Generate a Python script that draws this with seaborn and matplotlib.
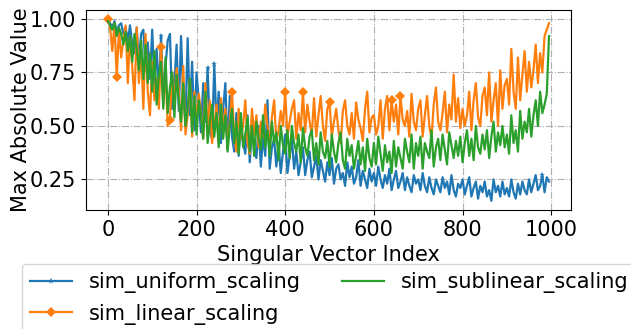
import numpy as np
import pandas as pd
import matplotlib
matplotlib.use('Agg')
import matplotlib.pyplot as plt
import seaborn as sns

# singular vector index, sampled every 5th vector
idx = np.arange(0, 1000, 5)

uniform = [
    1.00, 0.98, 0.96, 0.99, 0.94, 0.97, 0.98, 0.93, 0.96, 0.90,
    0.97, 0.88, 0.84, 0.96, 0.80, 0.93, 0.95, 0.76, 0.89, 0.72,
    0.95, 0.70, 0.86, 0.66, 0.92, 0.62, 0.78, 0.90, 0.93, 0.58,
    0.70, 0.88, 0.57, 0.92, 0.64, 0.52, 0.91, 0.55, 0.80, 0.48,
    0.75, 0.62, 0.47, 0.70, 0.52, 0.77, 0.48, 0.44, 0.79, 0.50,
    0.66, 0.42, 0.58, 0.70, 0.39, 0.64, 0.45, 0.38, 0.56, 0.36,
    0.52, 0.42, 0.37, 0.55, 0.33, 0.48, 0.40, 0.35, 0.50, 0.31,
    0.45, 0.36, 0.62, 0.30, 0.40, 0.44, 0.31, 0.42, 0.28, 0.38,
    0.46, 0.28, 0.36, 0.44, 0.30, 0.38, 0.27, 0.33, 0.40, 0.27,
    0.34, 0.38, 0.26, 0.31, 0.36, 0.25, 0.34, 0.29, 0.24, 0.33,
    0.27, 0.35, 0.23, 0.30, 0.32, 0.25, 0.28, 0.22, 0.33, 0.26,
    0.31, 0.23, 0.26, 0.34, 0.22, 0.29, 0.25, 0.21, 0.30, 0.24,
    0.28, 0.22, 0.31, 0.25, 0.21, 0.27, 0.23, 0.30, 0.20, 0.25,
    0.29, 0.21, 0.24, 0.28, 0.20, 0.26, 0.22, 0.19, 0.27, 0.23,
    0.25, 0.20, 0.28, 0.22, 0.19, 0.26, 0.21, 0.18, 0.25, 0.22,
    0.19, 0.26, 0.21, 0.24, 0.18, 0.27, 0.20, 0.17, 0.23, 0.21,
    0.25, 0.18, 0.22, 0.26, 0.17, 0.21, 0.24, 0.16, 0.22, 0.19,
    0.24, 0.17, 0.20, 0.15, 0.25, 0.19, 0.22, 0.17, 0.24, 0.18,
    0.21, 0.17, 0.25, 0.19, 0.16, 0.23, 0.18, 0.24, 0.20, 0.18,
    0.25, 0.19, 0.23, 0.27, 0.20, 0.22, 0.27, 0.19, 0.26, 0.24,
]

linear = [
    1.00, 0.96, 0.85, 0.98, 0.73, 0.95, 0.82, 0.90, 0.97, 0.70,
    0.92, 0.78, 0.62, 0.96, 0.70, 0.86, 0.58, 0.93, 0.66, 0.55,
    0.80, 0.62, 0.72, 0.58, 0.87, 0.60, 0.76, 0.50, 0.53, 0.75,
    0.60, 0.77, 0.66, 0.48, 0.78, 0.46, 0.55, 0.72, 0.45, 0.66,
    0.52, 0.65, 0.56, 0.44, 0.70, 0.48, 0.62, 0.42, 0.50, 0.60,
    0.42, 0.63, 0.48, 0.58, 0.40, 0.52, 0.66, 0.45, 0.38, 0.58,
    0.44, 0.50, 0.62, 0.42, 0.37, 0.58, 0.46, 0.55, 0.40, 0.52,
    0.45, 0.60, 0.50, 0.42, 0.54, 0.62, 0.43, 0.48, 0.57, 0.50,
    0.66, 0.45, 0.52, 0.58, 0.62, 0.44, 0.56, 0.48, 0.66, 0.47,
    0.60, 0.52, 0.46, 0.63, 0.45, 0.55, 0.64, 0.50, 0.43, 0.58,
    0.61, 0.45, 0.52, 0.58, 0.48, 0.42, 0.57, 0.62, 0.50, 0.46,
    0.56, 0.44, 0.61, 0.53, 0.49, 0.43, 0.58, 0.66, 0.47, 0.54,
    0.55, 0.46, 0.50, 0.62, 0.44, 0.58, 0.64, 0.48, 0.62, 0.52,
    0.60, 0.46, 0.64, 0.53, 0.50, 0.57, 0.45, 0.65, 0.52, 0.48,
    0.58, 0.62, 0.45, 0.55, 0.64, 0.50, 0.44, 0.60, 0.68, 0.52,
    0.48, 0.56, 0.66, 0.47, 0.60, 0.53, 0.74, 0.52, 0.63, 0.49,
    0.58, 0.50, 0.55, 0.66, 0.48, 0.62, 0.70, 0.54, 0.50, 0.64,
    0.68, 0.55, 0.75, 0.52, 0.62, 0.70, 0.50, 0.76, 0.58, 0.69,
    0.72, 0.60, 0.86, 0.66, 0.58, 0.82, 0.62, 0.74, 0.85, 0.66,
    0.80, 0.68, 0.76, 0.88, 0.70, 0.84, 0.75, 0.92, 0.95, 0.98,
]

sublinear = [
    0.99, 0.97, 0.95, 0.98, 0.92, 0.96, 0.93, 0.88, 0.94, 0.85,
    0.92, 0.80, 0.93, 0.86, 0.76, 0.90, 0.72, 0.88, 0.70, 0.84,
    0.66, 0.85, 0.60, 0.74, 0.80, 0.58, 0.82, 0.56, 0.68, 0.75,
    0.54, 0.74, 0.62, 0.52, 0.70, 0.50, 0.58, 0.72, 0.47, 0.64,
    0.46, 0.62, 0.55, 0.44, 0.66, 0.42, 0.52, 0.60, 0.45, 0.56,
    0.40, 0.60, 0.44, 0.55, 0.38, 0.50, 0.58, 0.42, 0.52, 0.37,
    0.56, 0.40, 0.46, 0.54, 0.38, 0.50, 0.36, 0.52, 0.44, 0.39,
    0.55, 0.40, 0.48, 0.36, 0.52, 0.42, 0.47, 0.34, 0.50, 0.41,
    0.37, 0.48, 0.35, 0.50, 0.42, 0.38, 0.46, 0.33, 0.49, 0.40,
    0.36, 0.45, 0.48, 0.34, 0.42, 0.32, 0.47, 0.38, 0.35, 0.43,
    0.31, 0.46, 0.38, 0.33, 0.42, 0.47, 0.34, 0.30, 0.44, 0.36,
    0.41, 0.30, 0.36, 0.43, 0.32, 0.40, 0.29, 0.44, 0.35, 0.31,
    0.42, 0.32, 0.45, 0.37, 0.29, 0.41, 0.33, 0.38, 0.28, 0.43,
    0.31, 0.40, 0.35, 0.30, 0.44, 0.38, 0.33, 0.46, 0.30, 0.42,
    0.36, 0.45, 0.30, 0.42, 0.38, 0.35, 0.48, 0.31, 0.40, 0.44,
    0.34, 0.46, 0.39, 0.32, 0.47, 0.41, 0.35, 0.43, 0.36, 0.45,
    0.33, 0.42, 0.48, 0.36, 0.44, 0.34, 0.50, 0.40, 0.37, 0.46,
    0.39, 0.48, 0.35, 0.45, 0.52, 0.38, 0.47, 0.41, 0.50, 0.40,
    0.46, 0.37, 0.55, 0.42, 0.48, 0.38, 0.57, 0.44, 0.52, 0.47,
    0.58, 0.45, 0.55, 0.62, 0.50, 0.66, 0.56, 0.60, 0.65, 0.92,
]

# positions (in the sampled arrays) where the markers show up
uniform_marks = [24, 45, 48, 196]
linear_marks = [0, 4, 24, 28, 56, 80, 88, 100, 128, 132]

plt.rcParams['font.size'] = 15

fig = plt.figure(figsize=(6.31, 3.29), dpi=100)
ax = fig.add_axes([0.136, 0.362, 0.769, 0.608])

sns.lineplot(x=idx, y=uniform, ax=ax, color='#1f77b4', lw=1.6, marker='*',
             markersize=5, markevery=uniform_marks, markeredgewidth=0,
             label='sim_uniform_scaling')
sns.lineplot(x=idx, y=linear, ax=ax, color='#ff7f0e', lw=1.6, marker='D',
             markersize=5, markevery=linear_marks, markeredgewidth=0,
             label='sim_linear_scaling')
sns.lineplot(x=idx, y=sublinear, ax=ax, color='#2ca02c', lw=1.6,
             label='sim_sublinear_scaling')

ax.set_xticks([0, 200, 400, 600, 800, 1000])
ax.set_yticks([0.25, 0.50, 0.75, 1.00])
ax.set_xlabel('Singular Vector Index')
ax.set_ylabel('Max Absolute Value', labelpad=-1)
ax.grid(True, linestyle='-.', color='#b0b0b0', lw=0.8)

ax.legend(loc='upper left', bbox_to_anchor=(0.035, 0.198), bbox_transform=fig.transFigure,
          ncol=2, borderaxespad=0, columnspacing=2.0)

fig.savefig('out.png', dpi=100)
